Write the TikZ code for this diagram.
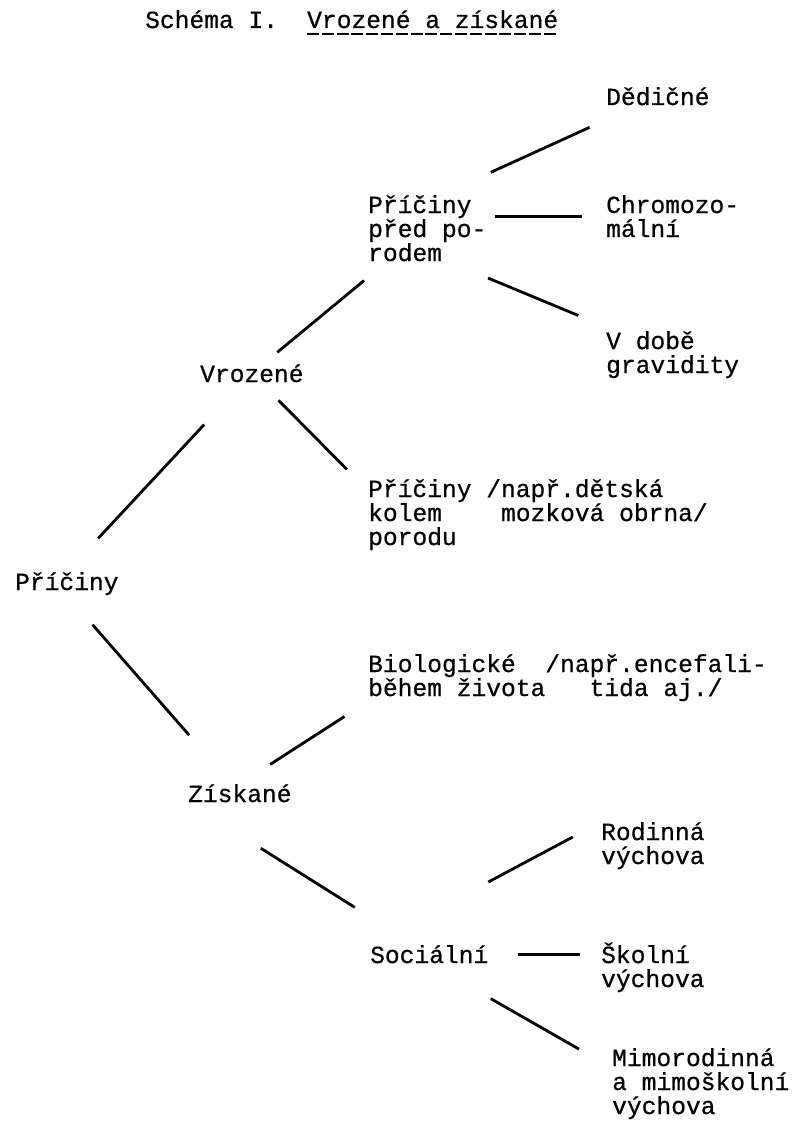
\documentclass[tikz,border=0pt]{standalone}
\usepackage{fontspec}
\newfontfamily\typer[FakeBold=0.6]{Liberation Mono}

\begin{document}
\begin{tikzpicture}[
  x=1pt, y=-1pt,
  font=\typer\fontsize{24.6pt}{24pt}\selectfont,
  txt/.style={anchor=base west, align=left, inner sep=0pt},
  link/.style={line width=2.8pt},
  uline/.style={line width=2.4pt, dash pattern=on 12pt off 2.8pt}
]
\useasboundingbox (0,0) rectangle (797,1126);

\node[txt] (schema) at (145,28) {Schéma I.};
\node[txt] (tname) at (307,28) {Vrozené a získané};

\node[txt] (pric) at (15,590) {Příčiny};
\node[txt] (vroz) at (200,382) {Vrozené};
\node[txt] (zisk) at (188,802) {Získané};
\node[txt] (pred) at (368,261) {Příčiny\\před po-\\rodem};
\node[txt] (kolem) at (368,545) {Příčiny /např.dětská\\kolem~~~~mozková obrna/\\porodu};
\node[txt] (ded) at (606,105) {Dědičné};
\node[txt] (chrom) at (606,237) {Chromozo-\\mální};
\node[txt] (grav) at (606,373) {V době\\gravidity};
\node[txt] (bio) at (368,696) {Biologické~~/např.encefali-\\během života~~~tida aj./};
\node[txt] (soc) at (370,963) {Sociální};
\node[txt] (rod) at (601,864) {Rodinná\\výchova};
\node[txt] (skol) at (601,987) {Školní\\výchova};
\node[txt] (mimo) at (612,1114) {Mimorodinná\\a mimoškolní\\výchova};

\draw[uline] ([yshift=-6pt]tname.base west) -- ([yshift=-6pt]tname.base east);

\draw[link, shorten <=46pt, shorten >=70pt] (pric.north) -- (vroz.center);
\draw[link, shorten <=39pt, shorten >=77pt] (pric.south) -- (zisk.center);
\draw[link, shorten <=33pt, shorten >=82pt] (vroz.center) -- (pred.center);
\draw[link, shorten <=38pt, shorten >=30pt] (vroz.center) -- (kolem.172);
\draw[link, shorten <=135pt, shorten >=75pt] (pred.west) -- (ded.center);
\draw[link, shorten <=8pt, shorten >=24pt] (pred.east |- chrom.west) -- (chrom.west);
\draw[link, shorten <=130pt, shorten >=102pt] (pred.west) -- (grav.center);
\draw[link, shorten <=36pt, shorten >=28pt] (zisk.north) -- (bio.south west);
\draw[link, shorten <=86pt, shorten >=88pt] (zisk.south west) -- (soc.center);
\draw[link, shorten <=134pt, shorten >=32pt] (soc.north west) -- (rod.north west);
\draw[link, shorten <=29pt, shorten >=21pt] (soc.east) -- (soc.east -| skol.west);
\draw[link, shorten <=71pt, shorten >=38pt] (soc.south) -- (mimo.170);
\end{tikzpicture}
\end{document}
